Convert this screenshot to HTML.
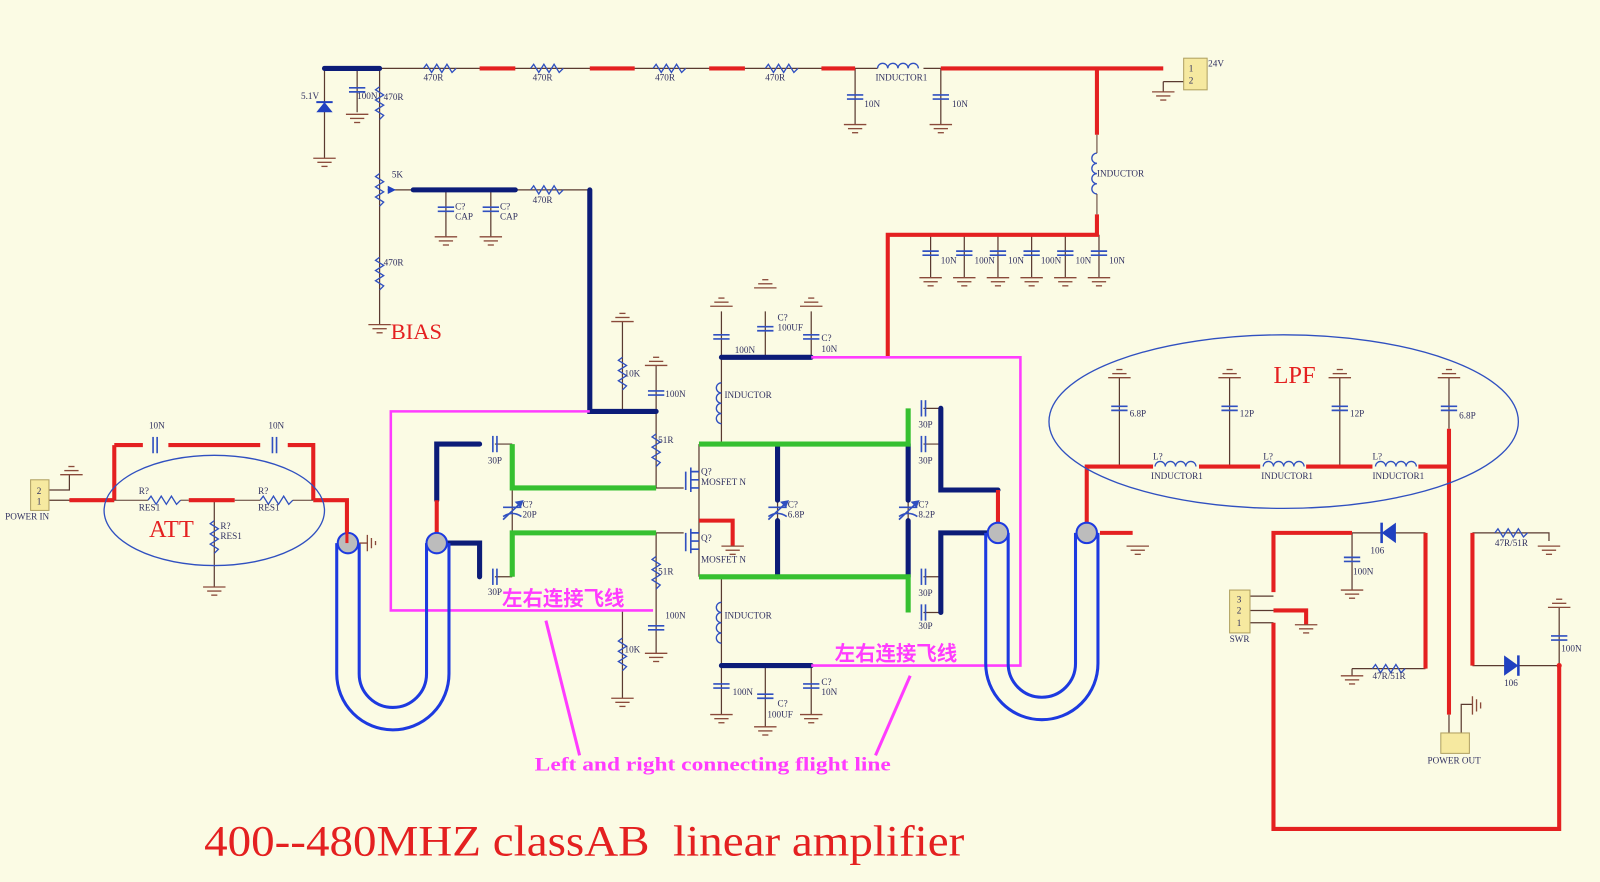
<!DOCTYPE html>
<html><head><meta charset="utf-8"><style>
html,body{margin:0;padding:0;background:#fbfbe4;}
svg{display:block}
text{font-family:"Liberation Serif","Noto Serif CJK SC",serif;}
.t{font-size:9px;fill:#303060}
</style></head><body>
<svg width="1600" height="882" viewBox="0 0 1568 864" preserveAspectRatio="none" xmlns="http://www.w3.org/2000/svg">
<defs>
<g id="gnd" stroke="#8a4a3a" stroke-width="1.3"><line x1="-11" y1="0" x2="11" y2="0"/><line x1="-7" y1="4" x2="7" y2="4"/><line x1="-3" y1="8" x2="3" y2="8"/></g>
<g id="gup" stroke="#8a4a3a" stroke-width="1.3"><line x1="-11" y1="0" x2="11" y2="0"/><line x1="-7" y1="-4" x2="7" y2="-4"/><line x1="-3" y1="-8" x2="3" y2="-8"/></g>
<path id="rh" d="M0 0 l3 -4 l5 8 l5 -8 l5 8 l5 -8 l5 8 l4 -4" fill="none" stroke="#3050c0" stroke-width="1.3"/>
<path id="rv" d="M0 0 l-4 3 l8 5 l-8 5 l8 5 l-8 5 l8 5 l-4 4" fill="none" stroke="#3050c0" stroke-width="1.3"/>
<g id="cv" stroke="#3050c0" stroke-width="1.6"><line x1="-8" y1="-2" x2="8" y2="-2"/><line x1="-8" y1="2" x2="8" y2="2"/></g>
<g id="ch" stroke="#3050c0" stroke-width="1.6"><line x1="-2" y1="-8" x2="-2" y2="8"/><line x1="2" y1="-8" x2="2" y2="8"/></g>
<path id="lh" d="M0 0 a5 5 0 0 1 10 0 a5 5 0 0 1 10 0 a5 5 0 0 1 10 0 a5 5 0 0 1 10 0" fill="none" stroke="#3050c0" stroke-width="1.3"/>
<path id="lv" d="M0 0 a5 5 0 0 0 0 10 a5 5 0 0 0 0 10 a5 5 0 0 0 0 10 a5 5 0 0 0 0 10" fill="none" stroke="#3050c0" stroke-width="1.3"/>
<g id="vc" stroke="#3050c0" stroke-width="1.6"><line x1="-9" y1="-3" x2="9" y2="-3"/><path d="M-9 6 q9 -6 18 0" fill="none"/><line x1="-9" y1="9" x2="10" y2="-9"/><path d="M10 -9 l-6 1 l4 4z" fill="#3050c0"/></g>
</defs>

<g stroke="#5a3a30" stroke-width="1.2" fill="none">
<path d="M372 67 H860 M905 67 H922"/>
<path d="M318 67 V155 M350 67 V110 M372 67 V245 M372 240 V318"/>
<path d="M380 186 H578 M437 186 V232 M481 186 V232"/>
<path d="M838 67 V122 M922 67 V122"/>
<path d="M912 230 V272 M945 230 V272 M978 230 V272 M1011 230 V272 M1044 230 V272 M1077 230 V272"/>
<path d="M610 315 V403 M643 358 V478 H670 M643 403"/>
<path d="M643 522 H670 M643 522 V640 M610 598 V684"/>
<path d="M707 305 V435 M750 305 V350 M795 305 V350 M685 435 V565 M707 565 V652 M707 652 V700 M750 652 V712 M795 652 V700"/>
<path d="M48 480 H68 V465 M48 490 H112"/>
<path d="M210 490 V575"/>
<path d="M1097 370 V457 M1205 370 V457 M1313 370 V457 M1420 370 V420"/>
<path d="M1325 522 V578 M1397 522 H1325 M1325 655 H1397 M1325 655 V662"/>
<path d="M1225 584 H1248 M1225 598 H1248 M1225 610 H1248"/>
<path d="M1443 522 H1518 V530 M1443 652 H1528 M1528 595 V652"/>
<path d="M1420 700 V718 M1432 718 V690 H1443"/>
<path d="M1140 80 V90 M1140 80 H1160"/>
<path d="M485 435 H502 M485 565 H502 M905 400 H922 M905 435 H922 M905 565 H922 M905 600 H922"/>
<path d="M502 478 V522 M762 490 V510 M890 490 V510"/>
</g>

<g stroke="#0c1c78" stroke-width="5" fill="none" stroke-linecap="round">
<path d="M318 67 H372"/>
<path d="M405 186 H505"/>
<path d="M578 186 V403 H643"/>
<path d="M707 350 H795 M707 652 H795"/>
<path d="M428 490 V435 H470 M428 532 H470 V565"/>
<path d="M762 435 V490 M762 510 V565 M890 435 V490 M890 510 V565"/>
<path d="M922 400 V480 H978 M922 600 V522 H978"/>
</g>

<g stroke="#36c030" stroke-width="5" fill="none">
<path d="M502 435 V478 H643 M502 565 V522 H643"/>
<path d="M685 435 H890 V400 M685 565 H890 V600"/>
</g>

<g stroke="#e42020" stroke-width="4" fill="none">
<path d="M470 67 H505 M578 67 H622 M695 67 H730 M805 67 H838"/>
<path d="M922 67 H1140 M1075 67 V132 M1075 210 V230 H870 V350"/>
<path d="M68 490 H112 M112 436 V490 M112 436 H140 M165 436 H255 M282 436 H307 V490 M307 490 H340 V532 M185 490 H230"/>
<path d="M428 490 V532"/>
<path d="M685 510 H718 V535"/>
<path d="M978 480 V522"/>
<path d="M1065 522 V457 H1130 M1175 457 H1235 M1280 457 H1345 M1390 457 H1420 M1420 420 V700"/>
<path d="M1078 522 H1110"/>
<path d="M1248 580 V522 H1325 M1397 522 V655 M1248 598 H1280 V612 M1248 610 V812 H1528 V652 M1443 522 V652"/>
</g>

<g stroke="#ff3cff" stroke-width="2.5" fill="none">
<path d="M578 403 H383 V598 H640"/>
<path d="M795 350 H1000 V652 H795"/>
<path d="M535 608 L568 740 M892 662 L858 740" stroke-width="3"/>
</g>

<use href="#rh" x="415" y="67"/><use href="#rh" x="520" y="67"/><use href="#rh" x="640" y="67"/><use href="#rh" x="750" y="67"/>
<use href="#lh" x="860" y="67"/>
<use href="#cv" x="350" y="88"/><use href="#gnd" x="350" y="112"/>
<path d="M310 110 h16 l-8 -10z" fill="#2040c0"/><path d="M310 100 h16" stroke="#2040c0" stroke-width="2"/>
<use href="#gnd" x="318" y="155"/>
<use href="#rv" x="372" y="85"/><use href="#rv" x="372" y="170"/><path d="M388 186 l-8 -4 v8z" fill="#2040c0"/>
<use href="#rv" x="372" y="252"/><use href="#gnd" x="372" y="318"/>
<use href="#cv" x="437" y="205"/><use href="#gnd" x="437" y="232"/><use href="#cv" x="481" y="205"/><use href="#gnd" x="481" y="232"/>
<use href="#rh" x="520" y="186"/>
<use href="#cv" x="838" y="95"/><use href="#gnd" x="838" y="122"/><use href="#cv" x="922" y="95"/><use href="#gnd" x="922" y="122"/>
<use href="#lv" x="1075" y="150"/><line x1="1075" y1="132" x2="1075" y2="150" stroke="#5a3a30"/><line x1="1075" y1="190" x2="1075" y2="210" stroke="#5a3a30"/>
<g><use href="#cv" x="912" y="248"/><use href="#cv" x="945" y="248"/><use href="#cv" x="978" y="248"/><use href="#cv" x="1011" y="248"/><use href="#cv" x="1044" y="248"/><use href="#cv" x="1077" y="248"/>
<use href="#gnd" x="912" y="272"/><use href="#gnd" x="945" y="272"/><use href="#gnd" x="978" y="272"/><use href="#gnd" x="1011" y="272"/><use href="#gnd" x="1044" y="272"/><use href="#gnd" x="1077" y="272"/></g>
<rect x="1160" y="57" width="23" height="31" fill="#f6e9a0" stroke="#b0a060"/><use href="#gnd" x="1140" y="90"/>
<use href="#gup" x="610" y="315"/><use href="#rv" x="610" y="350"/>
<use href="#gup" x="643" y="358"/><use href="#cv" x="643" y="385"/>
<use href="#rv" x="643" y="425"/><use href="#rv" x="643" y="545"/>
<use href="#cv" x="643" y="615"/><use href="#gnd" x="643" y="640"/>
<use href="#rv" x="610" y="625"/><use href="#gnd" x="610" y="684"/>
<g stroke="#3050c0" stroke-width="1.6" fill="none"><path d="M672 462 v18 M677 458 v24 M677 462 h8 M677 470 h8 M677 478 h8"/><path d="M672 522 v18 M677 518 v24 M677 522 h8 M677 530 h8 M677 538 h8"/></g>
<use href="#gnd" x="718" y="535"/>
<use href="#gup" x="707" y="300"/><use href="#cv" x="707" y="330"/><use href="#gup" x="750" y="282"/><use href="#cv" x="750" y="322"/><use href="#gup" x="795" y="300"/><use href="#cv" x="795" y="330"/>
<use href="#lv" x="707" y="375"/><use href="#lv" x="707" y="590"/>
<use href="#cv" x="707" y="672"/><use href="#gnd" x="707" y="700"/><use href="#cv" x="750" y="682"/><use href="#gnd" x="750" y="712"/><use href="#cv" x="795" y="672"/><use href="#gnd" x="795" y="700"/>
<use href="#ch" x="485" y="435"/><use href="#ch" x="485" y="565"/>
<use href="#vc" x="502" y="500"/><use href="#vc" x="762" y="500"/><use href="#vc" x="890" y="500"/>
<use href="#ch" x="905" y="400"/><use href="#ch" x="905" y="435"/><use href="#ch" x="905" y="565"/><use href="#ch" x="905" y="600"/>
<rect x="30" y="470" width="18" height="30" fill="#f6e9a0" stroke="#b0a060"/>
<use href="#gup" x="70" y="465"/>
<use href="#ch" x="152" y="436"/><use href="#ch" x="269" y="436"/>
<use href="#rh" x="145" y="490"/><use href="#rh" x="255" y="490"/>
<line x1="112" y1="490" x2="145" y2="490" stroke="#5a3a30"/><line x1="177" y1="490" x2="185" y2="490" stroke="#5a3a30"/><line x1="230" y1="490" x2="255" y2="490" stroke="#5a3a30"/><line x1="287" y1="490" x2="307" y2="490" stroke="#5a3a30"/>
<use href="#rv" x="210" y="510"/><use href="#gnd" x="210" y="575"/>
<ellipse cx="210" cy="500" rx="108" ry="54" fill="none" stroke="#3050c0" stroke-width="1.3"/>
<g fill="none" stroke="#1d3ae0" stroke-width="3">
<path d="M330 532 V660 A55 55 0 0 0 440 660 V532"/>
<path d="M352 532 V660 A33 33 0 0 0 418 660 V532"/>
<path d="M966 522 V650 A55 55 0 0 0 1076 650 V522"/>
<path d="M988 522 V650 A33 33 0 0 0 1054 650 V522"/>
</g>
<g fill="#bcbcbc" stroke="#1d3ae0" stroke-width="2"><circle cx="341" cy="532" r="10"/><circle cx="428" cy="532" r="10"/><circle cx="978" cy="522" r="10"/><circle cx="1065" cy="522" r="10"/></g>
<line x1="340" y1="490" x2="340" y2="532" stroke="#e42020" stroke-width="3"/>
<g stroke="#8a4a3a" stroke-width="1.3"><path d="M352 532 H360 M360 524 V540 M364 527 V537 M368 530 V534"/></g>
<use href="#gnd" x="1115" y="535"/>
<ellipse cx="1258" cy="413" rx="230" ry="85" fill="none" stroke="#3050c0" stroke-width="1.3"/>
<use href="#lh" x="1132" y="457"/><use href="#lh" x="1238" y="457"/><use href="#lh" x="1348" y="457"/>
<use href="#gup" x="1097" y="370"/><use href="#cv" x="1097" y="400"/><use href="#gup" x="1205" y="370"/><use href="#cv" x="1205" y="400"/><use href="#gup" x="1313" y="370"/><use href="#cv" x="1313" y="400"/><use href="#gup" x="1420" y="370"/><use href="#cv" x="1420" y="400"/>
<rect x="1205" y="578" width="20" height="42" fill="#f6e9a0" stroke="#b0a060"/>
<use href="#gnd" x="1280" y="612"/>
<path d="M1368 512 v20 l-14 -10z" fill="#2040c0"/><line x1="1354" y1="512" x2="1354" y2="532" stroke="#2040c0" stroke-width="2.5"/>
<use href="#cv" x="1325" y="548"/><use href="#gnd" x="1325" y="578"/>
<use href="#rh" x="1345" y="655"/><use href="#gnd" x="1325" y="662"/>
<use href="#rh" x="1465" y="522"/><use href="#gnd" x="1518" y="535"/>
<path d="M1474 642 v20 l14 -10z" fill="#2040c0"/><line x1="1488" y1="642" x2="1488" y2="662" stroke="#2040c0" stroke-width="2.5"/>
<use href="#cv" x="1528" y="625"/><use href="#gup" x="1528" y="595"/>
<circle cx="1528" cy="652" r="2.5" fill="#e42020"/>
<g stroke="#8a4a3a" stroke-width="1.3"><path d="M1443 682 V700 M1447 685 V697 M1451 688 V694"/></g>
<rect x="1412" y="718" width="28" height="20" fill="#f6e9a0" stroke="#b0a060"/>

<g class="t">
<text x="415" y="79">470R</text><text x="522" y="79">470R</text><text x="642" y="79">470R</text><text x="750" y="79">470R</text>
<text x="858" y="79">INDUCTOR1</text><text x="1165" y="70">1</text><text x="1165" y="82">2</text><text x="1184" y="65">24V</text>
<text x="295" y="97">5.1V</text><text x="350" y="97">100N</text><text x="376" y="98">470R</text>
<text x="384" y="174">5K</text><text x="446" y="205">C?</text><text x="446" y="215">CAP</text><text x="490" y="205">C?</text><text x="490" y="215">CAP</text>
<text x="522" y="199">470R</text><text x="376" y="260">470R</text>
<text x="847" y="105">10N</text><text x="933" y="105">10N</text><text x="1075" y="173">INDUCTOR</text>
<text x="922" y="258">10N</text><text x="955" y="258">100N</text><text x="988" y="258">10N</text><text x="1020" y="258">100N</text><text x="1054" y="258">10N</text><text x="1087" y="258">10N</text>
<text x="612" y="369">10K</text><text x="652" y="389">100N</text><text x="645" y="434">51R</text><text x="645" y="563">51R</text><text x="652" y="606">100N</text><text x="612" y="639">10K</text>
<text x="687" y="465">Q?</text><text x="687" y="475">MOSFET N</text><text x="687" y="530">Q?</text><text x="687" y="551">MOSFET N</text>
<text x="710" y="390">INDUCTOR</text><text x="710" y="606">INDUCTOR</text>
<text x="720" y="346">100N</text><text x="762" y="314">C?</text><text x="762" y="324">100UF</text><text x="805" y="334">C?</text><text x="805" y="345">10N</text>
<text x="718" y="681">100N</text><text x="762" y="692">C?</text><text x="752" y="703">100UF</text><text x="805" y="671">C?</text><text x="805" y="681">10N</text>
<text x="478" y="454">30P</text><text x="478" y="583">30P</text><text x="512" y="497">C?</text><text x="512" y="507">20P</text>
<text x="772" y="497">C?</text><text x="772" y="507">6.8P</text><text x="900" y="497">C?</text><text x="900" y="507">8.2P</text>
<text x="900" y="419">30P</text><text x="900" y="454">30P</text><text x="900" y="584">30P</text><text x="900" y="616">30P</text>
<text x="146" y="420">10N</text><text x="263" y="420">10N</text><text x="136" y="484">R?</text><text x="136" y="500">RES1</text><text x="253" y="484">R?</text><text x="253" y="500">RES1</text>
<text x="216" y="518">R?</text><text x="216" y="528">RES1</text>
<text x="36" y="484">2</text><text x="36" y="494">1</text><text x="5" y="509">POWER IN</text>
<text x="1107" y="408">6.8P</text><text x="1215" y="408">12P</text><text x="1323" y="408">12P</text><text x="1430" y="410">6.8P</text>
<text x="1130" y="450">L?</text><text x="1128" y="469">INDUCTOR1</text><text x="1238" y="450">L?</text><text x="1236" y="469">INDUCTOR1</text><text x="1345" y="450">L?</text><text x="1345" y="469">INDUCTOR1</text>
<text x="1343" y="542">106</text><text x="1326" y="563">100N</text><text x="1345" y="665">47R/51R</text><text x="1465" y="535">47R/51R</text><text x="1474" y="672">106</text><text x="1530" y="638">100N</text>
<text x="1212" y="590">3</text><text x="1212" y="601">2</text><text x="1212" y="613">1</text><text x="1205" y="629">SWR</text>
<text x="1399" y="748">POWER OUT</text>
</g>
<text x="383" y="332" font-size="22" fill="#e42020">BIAS</text>
<text x="146" y="526" font-size="24" fill="#e42020">ATT</text>
<text x="1248" y="375" font-size="24" fill="#e42020">LPF</text>
<text x="492" y="593" font-size="20" font-weight="bold" fill="#ff3cff" style="font-family:'Noto Sans CJK SC',sans-serif">左右连接飞线</text>
<text x="818" y="647" font-size="20" font-weight="bold" fill="#ff3cff" style="font-family:'Noto Sans CJK SC',sans-serif">左右连接飞线</text>
<text x="524" y="755" font-size="19" font-weight="bold" fill="#ff3cff" textLength="349" lengthAdjust="spacingAndGlyphs">Left and right connecting flight line</text>
<text x="200" y="838" font-size="42" fill="#e42020" xml:space="preserve" textLength="745" lengthAdjust="spacingAndGlyphs">400--480MHZ classAB  linear amplifier</text>
</svg>
</body></html>
